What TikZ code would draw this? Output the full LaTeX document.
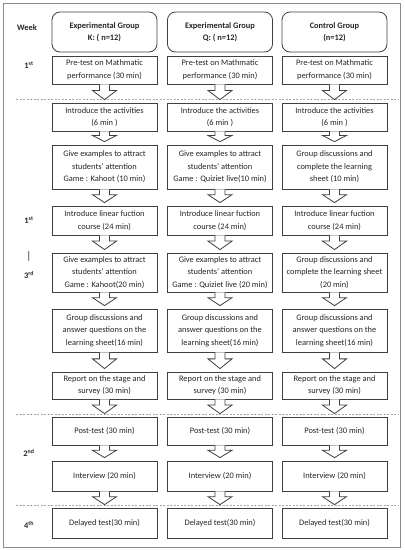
\documentclass[tikz,border=0pt]{standalone}
\usepackage{fontspec}
\setmainfont{Carlito}
\usepackage{xcolor}
\usetikzlibrary{calc}
\definecolor{line}{HTML}{404040}
\definecolor{frm}{HTML}{8C8C8C}
\definecolor{sep}{HTML}{A6A6A6}
\definecolor{txt}{HTML}{262626}

\begin{document}
\begin{tikzpicture}[x=1pt, y=-1pt, font=\fontsize{8.4}{12.5}\selectfont, text=txt,
  stage/.style={draw=line, line width=0.8pt, fill=white, minimum width=105, align=center, inner sep=1pt},
  head/.style={stage, rounded corners=8pt, minimum height=40, font=\fontsize{8.4}{12.5}\selectfont\bfseries},
  week/.style={font=\fontsize{8.4}{12.5}\selectfont\bfseries},
  hollow/.style={draw=line, line width=0.8pt, fill=white, line join=miter},
  dash line/.style={draw=sep, dashed, dash pattern=on 2pt off 1.5pt, line width=0.6pt}]
\useasboundingbox (0,0) rectangle (405,550);
\draw[frm, line width=0.8pt] (3,3) rectangle (400,547);
% week phases
\draw[dash line] (16,99) -- (398,99);
\draw[dash line] (16,414) -- (398,414);
\draw[dash line] (16,505) -- (398,505);
\node[week] (wk) at (27,28) {Week};
\foreach \y/\t [count=\i] in {65/{1\textsuperscript{st}}, 220/{1\textsuperscript{st}}, 256/{\fontsize{11}{11}\selectfont\mdseries|}, 275/{3\textsuperscript{rd}}, 453/{2\textsuperscript{nd}}, 525/{4\textsuperscript{th}}}
  \node[week] (w\i) at (29,\y) {\t};
% group headers
\foreach \x/\n/\t in {104.5/k/{Experimental Group\\K: ( n=12)}, 220/q/{Experimental Group\\Q: ( n=12)}, 334.5/c/{Control Group\\(n=12)}}
  \node[head] (h\n) at (\x,32) {\t};
% stages of the three groups
\foreach \r/\y/\h/\ka/\qa/\ca in {
  1/70/28/{Pre-test on Mathmatic\\performance (30 min)}/{Pre-test on Mathmatic\\performance (30 min)}/{Pre-test on Mathmatic\\performance (30 min)},
  2/117/28/{Introduce the activities\\(6 min )}/{Introduce the activities\\(6 min )}/{Introduce the activities\\(6 min )},
  3/167/44/{Give examples to attract\\students' attention\\Game : Kahoot (10 min)}/{Give examples to attract\\students' attention\\Game : Quiziet live(10 min)}/{Group discussions and\\complete the learning\\sheet (10 min)},
  4/220.5/29/{Introduce linear fuction\\course (24 min)}/{Introduce linear fuction\\course (24 min)}/{Introduce linear fuction\\course (24 min)},
  5/272.5/39/{Give examples to attract\\students' attention\\Game : Kahoot(20 min)}/{Give examples to attract\\students' attention\\Game : Quiziet live (20 min)}/{Group discussions and\\complete the learning sheet\\(20 min)},
  6/330.5/43/{Group discussions and\\answer questions on the\\learning sheet(16 min)}/{Group discussions and\\answer questions on the\\learning sheet(16 min)}/{Group discussions and\\answer questions on the\\learning sheet(16 min)},
  7/385.5/27/{Report on the stage and\\survey (30 min)}/{Report on the stage and\\survey (30 min)}/{Report on the stage and\\survey (30 min)},
  8/431/28/{Post-test (30 min)}/{Post-test (30 min)}/{Post-test (30 min)},
  9/476/30/{Interview (20 min)}/{Interview (20 min)}/{Interview (20 min)},
  10/523/30/{Delayed test(30 min)}/{Delayed test(30 min)}/{Delayed test(30 min)}} {
  \node[stage, minimum height=\h] (k\r) at (104.5,\y) {\ka};
  \node[stage, minimum height=\h] (q\r) at (220,\y) {\qa};
  \node[stage, minimum height=\h] (c\r) at (334.5,\y) {\ca};}
% hollow block arrows between stages
\foreach \a/\b in {1/2, 2/3, 3/4, 4/5, 5/6, 6/7, 7/8, 8/9, 9/10}
  \foreach \col in {k,q,c} {
    \path ($(\col\b.north)+(0,-3)$) coordinate (tip) ($(\col\a.south)!.4!(tip)$) coordinate (neck);
    \draw[hollow] ($(\col\a.south)+(-5,0)$) |- ($(neck)+(-12,0)$) -- (tip) -- ($(neck)+(12,0)$) -| ($(\col\a.south)+(5,0)$);}
\end{tikzpicture}
\end{document}
